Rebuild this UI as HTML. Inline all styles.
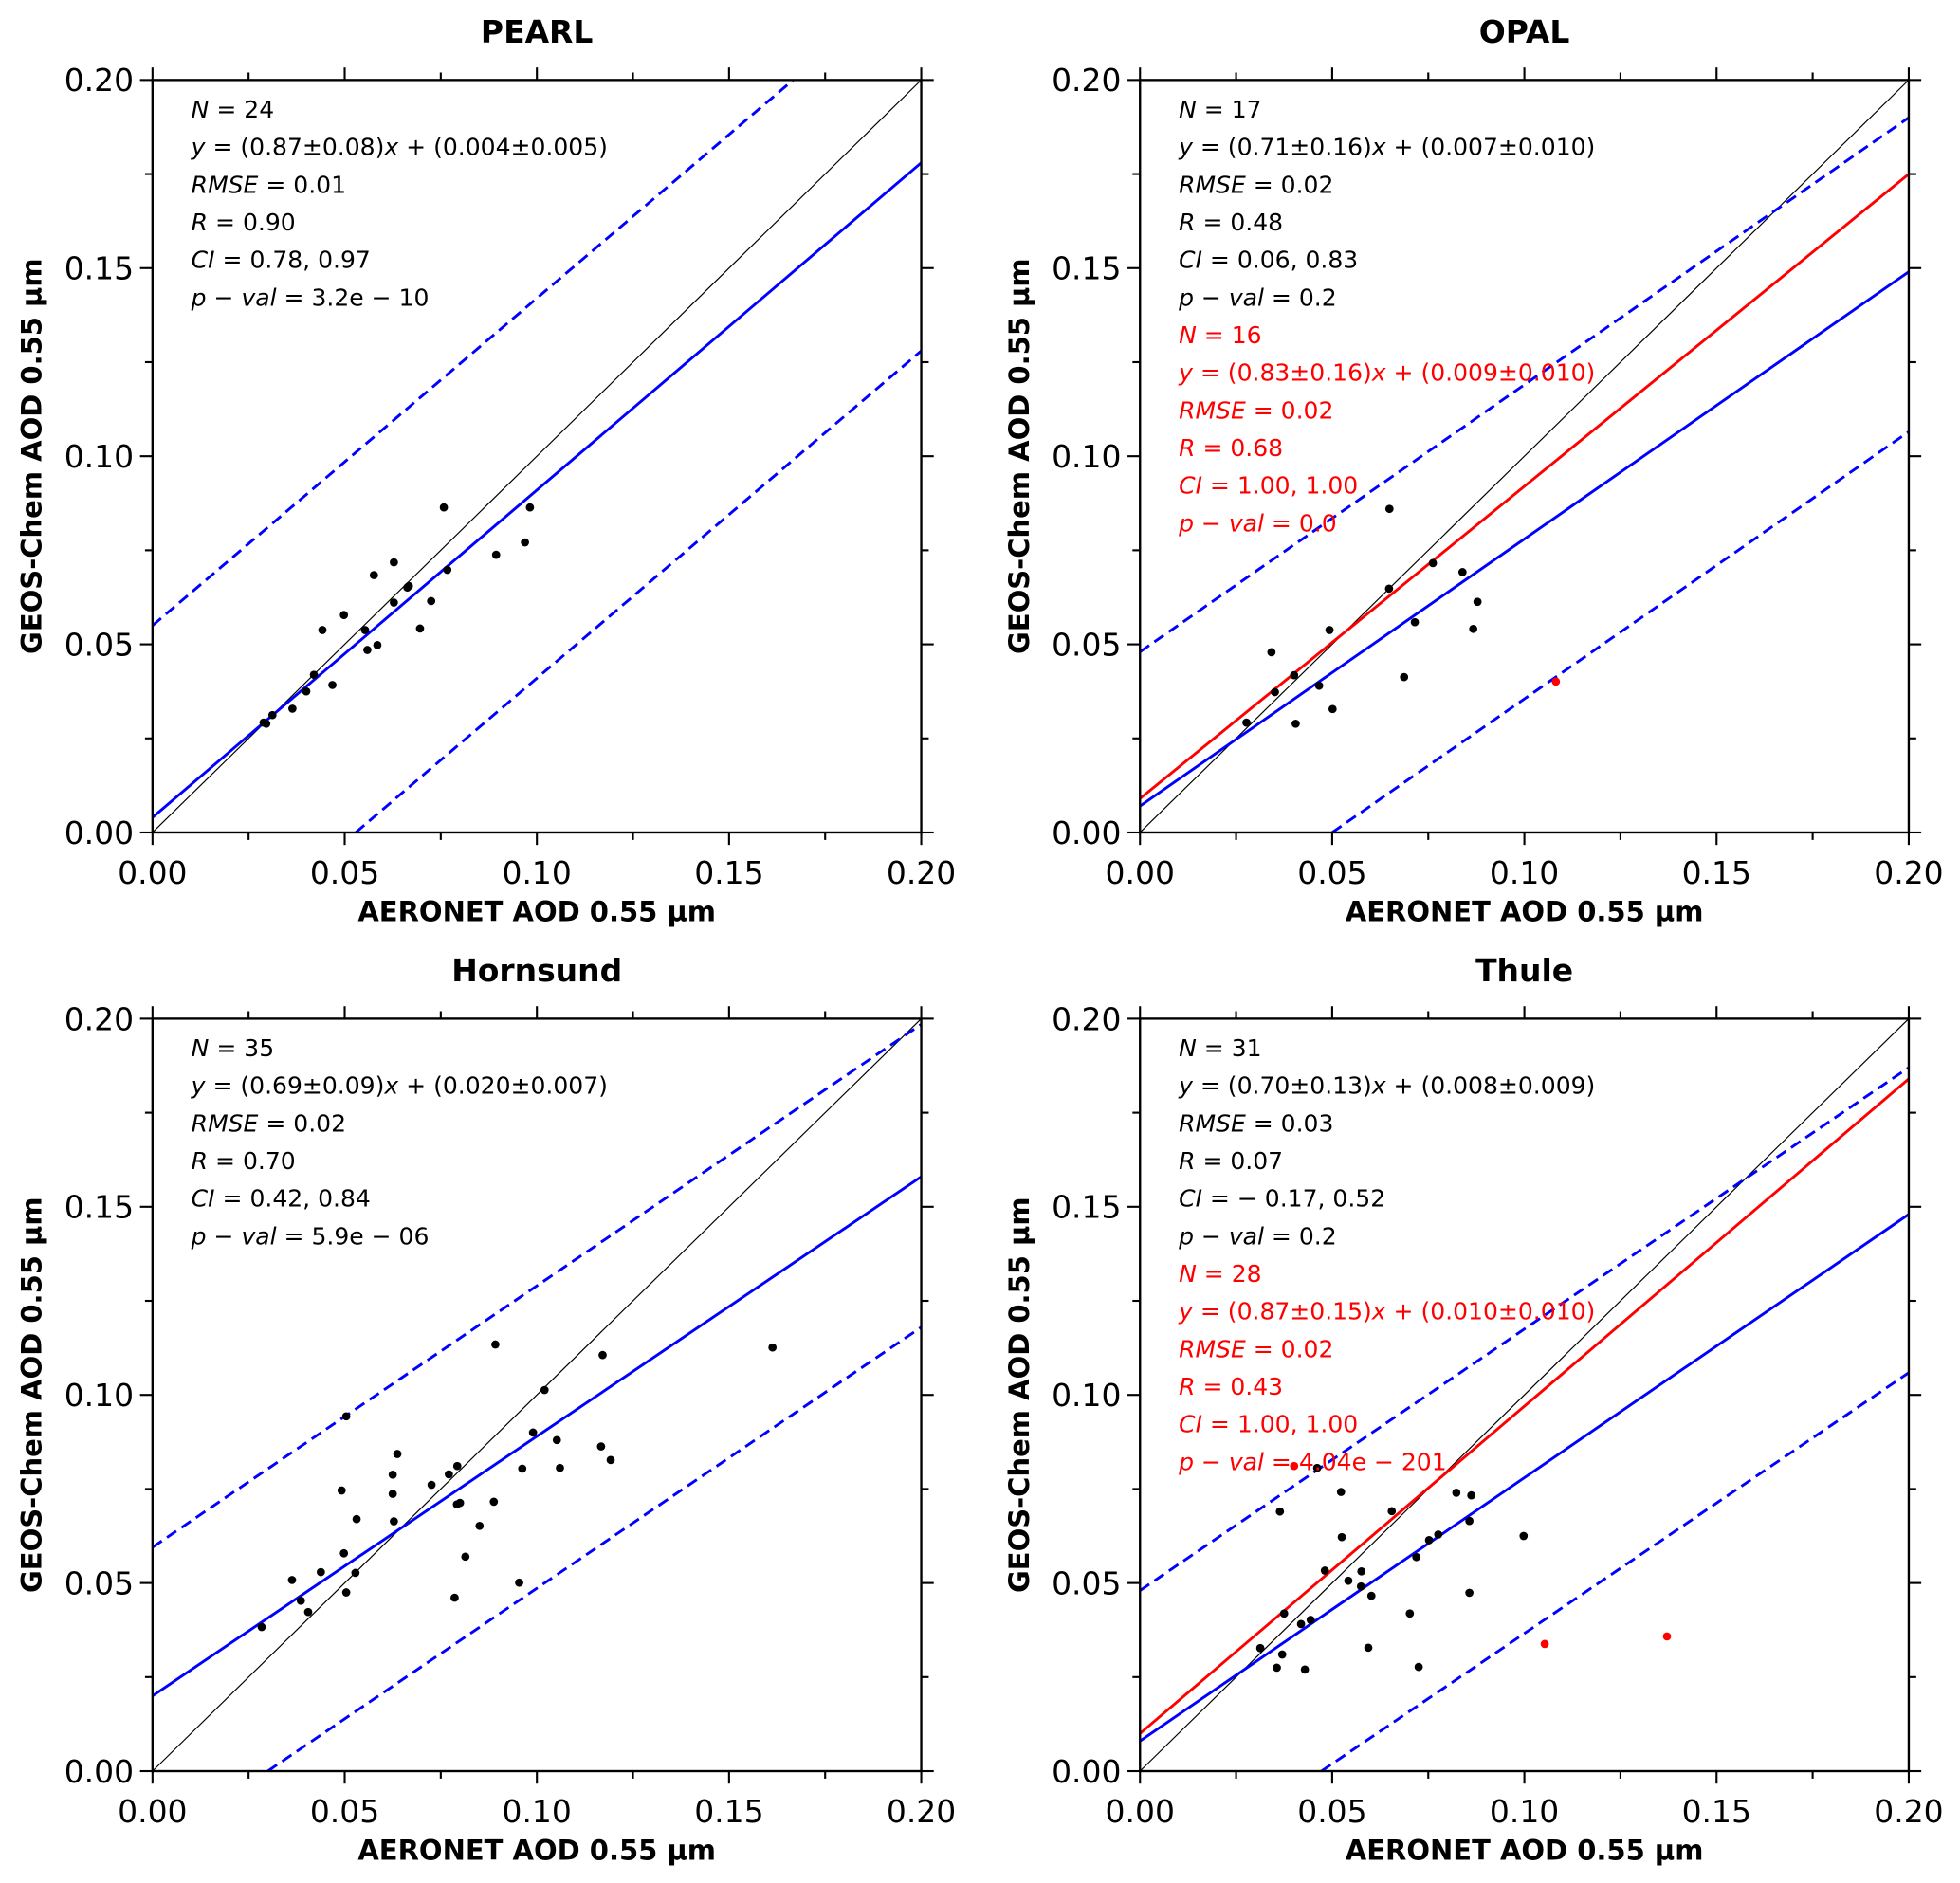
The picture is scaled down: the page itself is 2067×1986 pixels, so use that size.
<!DOCTYPE html>
<html><head><meta charset="utf-8"><style>
html,body{margin:0;padding:0;background:#fff;}
svg{display:block;font-family:"DejaVu Sans","Liberation Sans",sans-serif;}
</style></head><body>
<svg id="fig" width="2067" height="1986" viewBox="0 0 1568 1506.5" preserveAspectRatio="none" xmlns="http://www.w3.org/2000/svg"></svg>
<script>
// ---- data ----
const tickValues = [0, 0.05, 0.10, 0.15, 0.20];
const tickLabels = ["0.00", "0.05", "0.10", "0.15", "0.20"];
const panelTitles = ["PEARL", "OPAL", "Hornsund", "Thule"];

const pearlX = [0.0289,0.0296,0.0312,0.0364,0.0400,0.0420,0.0442,0.0468,0.0498,0.0553,0.0559,0.0576,0.0585,0.0628,0.0628,0.0663,0.0667,0.0696,0.0725,0.0758,0.0767,0.0894,0.0969,0.0982];
const pearlY = [0.0292,0.0289,0.0312,0.0329,0.0375,0.0419,0.0538,0.0392,0.0578,0.0538,0.0485,0.0684,0.0498,0.0718,0.0611,0.0651,0.0655,0.0542,0.0615,0.0864,0.0698,0.0738,0.0771,0.0864];
const pearlRedX = [];
const pearlRedY = [];

const opalX = [0.0649,0.0762,0.0839,0.0648,0.0878,0.0715,0.0867,0.0493,0.0342,0.0401,0.0687,0.0351,0.0466,0.0501,0.0277,0.0405];
const opalY = [0.0860,0.0716,0.0692,0.0648,0.0613,0.0559,0.0541,0.0538,0.0479,0.0418,0.0413,0.0373,0.0390,0.0328,0.0292,0.0289];
const opalRedX = [0.1082];
const opalRedY = [0.0401];

const hornX = [0.0284,0.0363,0.0386,0.0405,0.0438,0.0492,0.0504,0.0531,0.0498,0.0528,0.0504,0.0637,0.0625,0.0625,0.0628,0.0726,0.0771,0.0793,0.0792,0.0800,0.0786,0.0814,0.0851,0.0888,0.0892,0.0962,0.0954,0.0990,0.1020,0.1052,0.1060,0.1167,0.1171,0.1192,0.1613];
const hornY = [0.0383,0.0508,0.0453,0.0423,0.0529,0.0746,0.0943,0.0670,0.0579,0.0527,0.0475,0.0843,0.0788,0.0737,0.0664,0.0761,0.0789,0.0811,0.0709,0.0713,0.0461,0.0570,0.0652,0.0716,0.1134,0.0804,0.0501,0.0900,0.1013,0.0880,0.0806,0.0863,0.1106,0.0827,0.1126];
const hornRedX = [];
const hornRedY = [];

const thuleX = [0.0461,0.0523,0.0364,0.0655,0.0823,0.0862,0.0857,0.0525,0.0752,0.0776,0.0998,0.0719,0.0481,0.0576,0.0542,0.0575,0.0602,0.0857,0.0375,0.0702,0.0419,0.0444,0.0313,0.0370,0.0594,0.0356,0.0429,0.0725];
const thuleY = [0.0806,0.0742,0.0690,0.0691,0.0740,0.0733,0.0665,0.0622,0.0614,0.0629,0.0625,0.0569,0.0533,0.0531,0.0506,0.0491,0.0466,0.0474,0.0419,0.0419,0.0391,0.0402,0.0327,0.0310,0.0328,0.0275,0.0270,0.0277];
const thuleRedX = [0.0401,0.1053,0.1371];
const thuleRedY = [0.0811,0.0338,0.0358];

// fit lines: [slope, intercept]
const blueFits  = [[0.87,0.004],[0.71,0.007],[0.69,0.020],[0.70,0.008]];
const redFits   = [null,[0.83,0.009],null,[0.87,0.010]];
const upperBands= [[0.87,0.055],[0.71,0.048],[0.695,0.0595],[0.695,0.048]];
const lowerBands= [[0.87,-0.046],[0.71,-0.0355],[0.694,-0.0208],[0.693,-0.0327]];

const blackStats = [
 ["24","(0.87±0.08)","(0.004±0.005)","0.01","0.90","0.78, 0.97","3.2e − 10"],
 ["17","(0.71±0.16)","(0.007±0.010)","0.02","0.48","0.06, 0.83","0.2"],
 ["35","(0.69±0.09)","(0.020±0.007)","0.02","0.70","0.42, 0.84","5.9e − 06"],
 ["31","(0.70±0.13)","(0.008±0.009)","0.03","0.07","− 0.17, 0.52","0.2"]];
const redStats = [null,
 ["16","(0.83±0.16)","(0.009±0.010)","0.02","0.68","1.00, 1.00","0.0"],
 null,
 ["28","(0.87±0.15)","(0.010±0.010)","0.02","0.43","1.00, 1.00","4.04e − 201"]];

// ---- layout ----
const NS="http://www.w3.org/2000/svg";
const svg=document.getElementById('fig');
const panels=[{x0:122,y0:666},{x0:912,y0:666},{x0:122,y0:1417},{x0:912,y0:1417}];
const W=615,H=602;
const allX=[pearlX,opalX,hornX,thuleX], allY=[pearlY,opalY,hornY,thuleY];
const allRX=[pearlRedX,opalRedX,hornRedX,thuleRedX], allRY=[pearlRedY,opalRedY,hornRedY,thuleRedY];
const slugs=["pearl","opal","hornsund","thule"];

function mk(tag,attrs,parent){const e=document.createElementNS(NS,tag);for(const k in attrs)e.setAttribute(k,attrs[k]);(parent||svg).appendChild(e);return e;}

function lineClip(p,g,fit,color,dash,name){
  const sx=v=>p.x0+v/0.2*W, sy=v=>p.y0-v/0.2*H;
  let [m,b]=fit; let xa=0,xb=0.2;
  if(b<0) xa=-b/m;
  if(m*0.2+b>0.2) xb=(0.2-b)/m;
  const l=mk('line',{x1:sx(xa),y1:sy(m*xa+b),x2:sx(xb),y2:sy(m*xb+b),stroke:color,'stroke-width':2.2,'stroke-dasharray':dash||'none'},g);
  
  
}

panels.forEach((p,i)=>{
  const g=mk('g',{});
  
  
  const sx=v=>p.x0+v/0.2*W, sy=v=>p.y0-v/0.2*H;
  const t=mk('text',{x:p.x0+W/2,y:p.y0-H-30,'text-anchor':'middle','font-size':25,'font-weight':'bold'},g);
  t.textContent=panelTitles[i];
  
  
  const d=mk('line',{x1:sx(0),y1:sy(0),x2:sx(0.2),y2:sy(0.2),stroke:'#000','stroke-width':0.9},g);
  
  
  lineClip(p,g,upperBands[i],'#0000ff','9,5','upper-bound-line');
  lineClip(p,g,lowerBands[i],'#0000ff','9,5','lower-bound-line');
  lineClip(p,g,blueFits[i],'#0000ff',null,'fit-line-all');
  if(redFits[i]) lineClip(p,g,redFits[i],'#ff0000',null,'fit-line-filtered');
  allX[i].forEach((xv,k)=>{
    const c=mk('circle',{cx:sx(xv),cy:sy(allY[i][k]),r:3.3,fill:'#000'},g);
    
    
  });
  allRX[i].forEach((xv,k)=>{
    const c=mk('circle',{cx:sx(xv),cy:sy(allRY[i][k]),r:3.3,fill:'#ff0000'},g);
    
    
  });
  function stats(s,color,startLine){
    const lines=[
      `<tspan font-style="italic">N</tspan> = ${s[0]}`,
      `<tspan font-style="italic">y</tspan> = ${s[1]}<tspan font-style="italic">x</tspan> + ${s[2]}`,
      `<tspan font-style="italic">RMSE</tspan> = ${s[3]}`,
      `<tspan font-style="italic">R</tspan> = ${s[4]}`,
      `<tspan font-style="italic">CI</tspan> = ${s[5]}`,
      `<tspan font-style="italic">p</tspan> − <tspan font-style="italic">val</tspan> = ${s[6]}`];
    lines.forEach((h,k)=>{
      const tx=mk('text',{x:p.x0+31,y:p.y0-H+30+(startLine+k)*30.1,'font-size':19,fill:color},g);
      tx.innerHTML=h;
      
      
    });
  }
  stats(blackStats[i],'#000',0);
  if(redStats[i]) stats(redStats[i],'#ff0000',6);
  const fr=mk('rect',{x:p.x0,y:p.y0-H,width:W,height:H,fill:'none',stroke:'#000','stroke-width':1.8},g);
  
  
  for(let v=0;v<=0.2001;v+=0.025){
    const major=Math.abs(v/0.05-Math.round(v/0.05))<1e-6, L=major?10:6;
    const X=sx(v),Y=sy(v);
    mk('line',{x1:X,y1:p.y0,x2:X,y2:p.y0+L,stroke:'#000','stroke-width':1.6},g);
    mk('line',{x1:X,y1:p.y0-H,x2:X,y2:p.y0-H-L,stroke:'#000','stroke-width':1.6},g);
    mk('line',{x1:p.x0,y1:Y,x2:p.x0-L,y2:Y,stroke:'#000','stroke-width':1.6},g);
    mk('line',{x1:p.x0+W,y1:Y,x2:p.x0+W+L,y2:Y,stroke:'#000','stroke-width':1.6},g);
  }
  tickValues.forEach((v,k)=>{
    const tx=mk('text',{x:sx(v),y:p.y0+41,'text-anchor':'middle','font-size':25},g);
    tx.textContent=tickLabels[k];
    
    
    const ty=mk('text',{x:p.x0-15,y:sy(v)+9,'text-anchor':'end','font-size':25},g);
    ty.textContent=tickLabels[k];
    
    
  });
  const xl=mk('text',{x:p.x0+W/2,y:p.y0+71,'text-anchor':'middle','font-size':22,'font-weight':'bold'},g);
  xl.textContent='AERONET AOD 0.55 µm';
  
  
  const cy=p.y0-H/2;
  const yl=mk('text',{x:p.x0-89,y:cy,'text-anchor':'middle','font-size':22,'font-weight':'bold',transform:`rotate(-90 ${p.x0-89} ${cy})`},g);
  yl.textContent='GEOS-Chem AOD 0.55 µm';
  
  
});
</script>
</body></html>
